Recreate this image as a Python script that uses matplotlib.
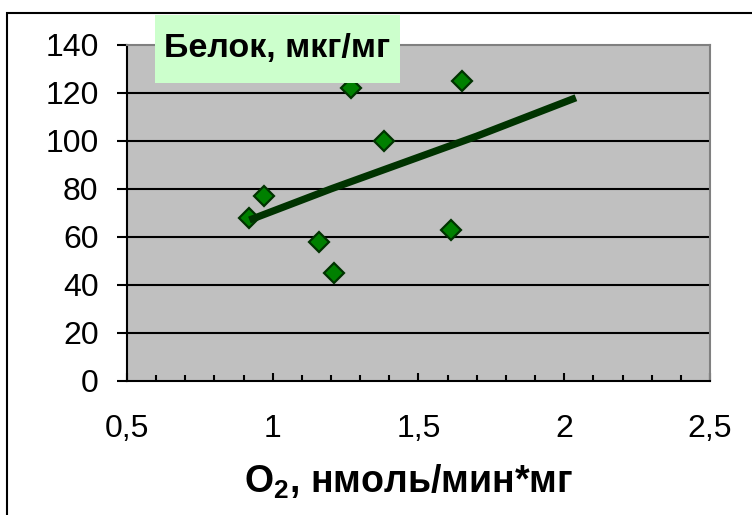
import matplotlib
matplotlib.use('Agg')
import matplotlib.pyplot as plt
from matplotlib.patches import Rectangle

plt.rcParams['font.family'] = ['Liberation Sans', 'DejaVu Sans']
plt.rcParams['mathtext.fontset'] = 'custom'
plt.rcParams['mathtext.rm'] = 'Liberation Sans'
plt.rcParams['mathtext.bf'] = 'Liberation Sans:bold'

# данные (O2, белок)
o2 = [0.92, 0.97, 1.16, 1.21, 1.27, 1.38, 1.61, 1.65]
protein = [68, 77, 58, 45, 122, 100, 63, 125]

# линия тренда
trend_x = [0.92, 1.2, 1.45, 1.7, 2.04]
trend_y = [67, 80, 91, 102, 118]

x_ticks = [0.5, 1, 1.5, 2, 2.5]
x_labels = ['0,5', '1', '1,5', '2', '2,5']
y_ticks = [0, 20, 40, 60, 80, 100, 120, 140]

fig = plt.figure(figsize=(7.52, 5.15), dpi=100)
ax = fig.add_axes([127 / 752, 134.3 / 515, 583 / 752, 335.7 / 515])
ax.set_facecolor('#C0C0C0')

# сетка
for y in y_ticks[1:-1]:
    ax.axhline(y, color='black', lw=1.5, zorder=1)

ax.plot(o2, protein, linestyle='none', marker='D', markersize=10,
        markerfacecolor='#008000', markeredgecolor='#003300', markeredgewidth=1.6, zorder=3)
ax.plot(trend_x, trend_y, color='#003300', lw=5.2, solid_capstyle='butt', zorder=4)

ax.set_xlim(0.5, 2.5)
ax.set_ylim(0, 140)
ax.set_xticks(x_ticks)
ax.set_xticklabels(x_labels)
ax.set_xticks([0.6, 0.7, 0.8, 0.9, 1.1, 1.2, 1.3, 1.4, 1.6, 1.7, 1.8, 1.9, 2.1, 2.2, 2.3, 2.4], minor=True)
ax.set_yticks(y_ticks)

ax.tick_params(axis='x', direction='in', length=6, width=1.5, pad=24, labelsize=23)
ax.tick_params(axis='x', which='minor', direction='in', length=4, width=1.5)
ax.tick_params(axis='y', direction='out', length=7.5, width=1.5, pad=13, labelsize=23)

for s in ['top', 'right']:
    ax.spines[s].set_color('#808080')
    ax.spines[s].set_linewidth(1.5)
for s in ['left', 'bottom']:
    ax.spines[s].set_color('black')
    ax.spines[s].set_linewidth(1.5)

# подпись оси X
fig.text(409 / 752, (515 - 482) / 515, r'$\mathbf{O_2}$, нмоль/мин*мг',
         ha='center', va='center', fontsize=27, fontweight='bold')

# заголовок в зелёной рамке
fig.add_artist(Rectangle((155 / 752, (515 - 83) / 515), 245 / 752, 68 / 515,
                         transform=fig.transFigure, facecolor='#CCFFCC', edgecolor='none', zorder=5))
fig.text(277.5 / 752, (515 - 57) / 515, 'Белок, мкг/мг', ha='center', va='baseline',
         fontsize=24.5, fontweight='bold', zorder=6)

# рамка вокруг диаграммы
fig.add_artist(Rectangle((7 / 752, -0.1), 1.2, (515 - 13) / 515 + 0.1,
                         transform=fig.transFigure, facecolor='none', edgecolor='black',
                         lw=1.5, zorder=7, clip_on=False))

fig.savefig('out.png', dpi=100)
